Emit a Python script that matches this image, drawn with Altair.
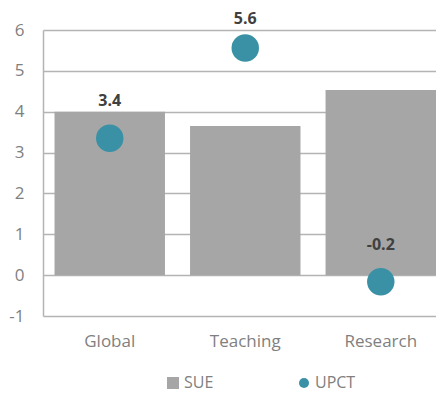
import altair as alt
import pandas as pd

categories = ["Global", "Teaching", "Research"]
sue_values = [4.0, 3.65, 4.53]
upct_values = [3.35, 5.56, -0.16]
upct_labels = ["3.4", "5.6", "-0.2"]
y_ticks = [-1, 0, 1, 2, 3, 4, 5, 6]

df = pd.DataFrame({
    "cat": categories,
    "sue": sue_values,
    "upct": upct_values,
    "label": upct_labels,
    "s1": ["SUE"] * 3,
    "s2": ["UPCT"] * 3,
})

FONT = "Open Sans"
GRID = "#b4b4b4"
BAR = "#a6a6a6"
TEAL = "#3a91a6"

x = alt.X("cat:N", sort=categories, title=None,
          scale=alt.Scale(paddingInner=0.185, paddingOuter=0.0425, align=1),
          axis=alt.Axis(labelAngle=0, domain=False, ticks=False, labelPadding=17,
                        labelFontSize=17, labelColor="#7f7f7f", labelFont=FONT))

yscale = alt.Scale(domain=[-1, 6], nice=False, zero=False)

base = alt.Chart(df)

bars = base.mark_bar(color=BAR).encode(
    x=x,
    y=alt.Y("sue:Q", scale=yscale, title=None,
            axis=alt.Axis(values=y_ticks, grid=True, gridColor=GRID, gridWidth=1.5,
                          domain=True, domainColor=GRID, domainWidth=1.5,
                          ticks=False, labelPadding=19, labelFontSize=17,
                          labelColor="#7f7f7f", labelFont=FONT,
                          labelExpr="'' + datum.value")),
    color=alt.Color("s1:N", scale=alt.Scale(domain=["SUE"], range=[BAR]),
                    legend=alt.Legend(title=None, orient="none", legendX=122, legendY=345,
                                      symbolType="square", symbolSize=144,
                                      labelFontSize=16, labelColor="#808080",
                                      labelFont=FONT, labelOffset=3, padding=0,
                                      symbolStrokeWidth=0)),
)

points = base.mark_circle(size=755, opacity=1).encode(
    x=x,
    y=alt.Y("upct:Q", scale=yscale),
    color=alt.Color("s2:N", scale=alt.Scale(domain=["UPCT"], range=[TEAL]),
                    legend=alt.Legend(title=None, orient="none", legendX=253, legendY=345,
                                      symbolType="circle", symbolSize=100,
                                      labelFontSize=16, labelColor="#808080",
                                      labelFont=FONT, labelOffset=3, padding=0,
                                      symbolStrokeWidth=0)),
)

text_style = dict(fontSize=16, fontWeight="bold", color="#404040", font=FONT)

labels_low = base.mark_text(dy=-37, **text_style).encode(
    x=x, y=alt.Y("upct:Q", scale=yscale), text="label:N",
).transform_filter("datum.upct <= 5")

labels_high = base.mark_text(dy=-29, **text_style).encode(
    x=x, y=alt.Y("upct:Q", scale=yscale), text="label:N",
).transform_filter("datum.upct > 5")

chart = alt.layer(bars, points, labels_low, labels_high).resolve_scale(
    color="independent").properties(
    width=393, height=286,
    autosize=alt.AutoSizeParams(type="none"),
    padding={"left": 35, "top": 22, "right": 0, "bottom": 79},
).configure_view(stroke=None)

chart.save("out.html", embed_options={"renderer": "svg", "actions": False})
